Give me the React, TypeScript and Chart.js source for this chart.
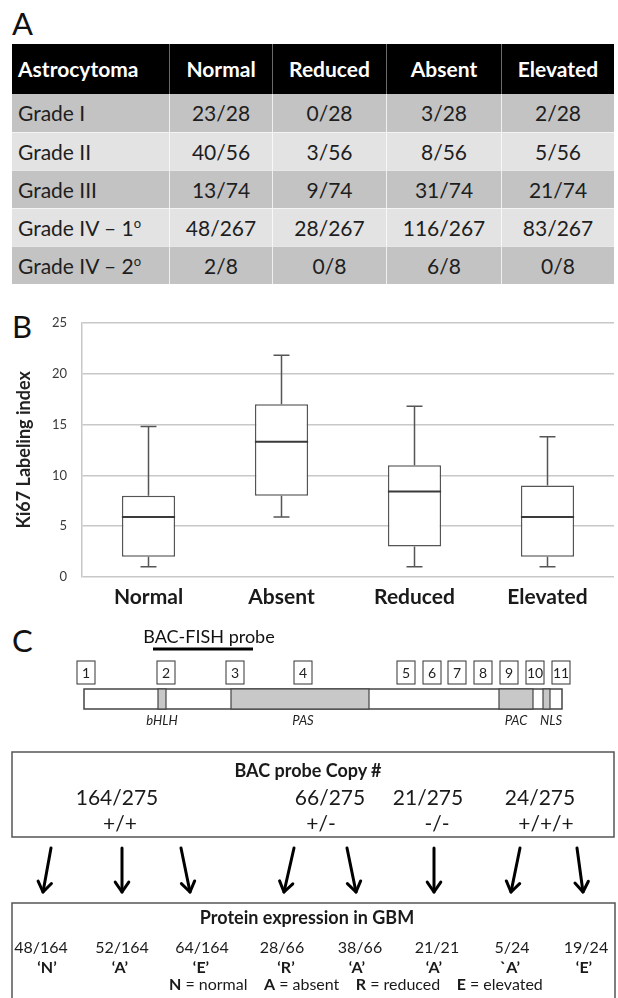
import React, { useEffect, useRef } from "react";
import { Chart, registerables } from "chart.js";

Chart.register(...registerables);

// ---------- Panel A data ----------
const tableHeaders = ["Astrocytoma", "Normal", "Reduced", "Absent", "Elevated"];
const tableGrades = ["Grade I", "Grade II", "Grade III", "Grade IV – 1", "Grade IV – 2"];
const gradeSup = ["", "", "", "o", "o"];
const colNormal = ["23/28", "40/56", "13/74", "48/267", "2/8"];
const colReduced = ["0/28", "3/56", "9/74", "28/267", "0/8"];
const colAbsent = ["3/28", "8/56", "31/74", "116/267", "6/8"];
const colElevated = ["2/28", "5/56", "21/74", "83/267", "0/8"];

// ---------- Panel B data ----------
const boxCategories = ["Normal", "Absent", "Reduced", "Elevated"];
const boxMin = [1, 5.9, 1, 1];
const boxQ1 = [2, 8, 3, 2];
const boxMedian = [5.9, 13.3, 8.4, 5.9];
const boxQ3 = [8, 17, 11, 9];
const boxMax = [14.8, 21.8, 16.8, 13.8];
const yAxisMin = 0;
const yAxisMax = 25;
const yAxisStep = 5;
const yAxisTitle = "Ki67 Labeling index";

// ---------- Panel C data ----------
const exonLabels = ["1", "2", "3", "4", "5", "6", "7", "8", "9", "10", "11"];
const domainLabels = ["bHLH", "PAS", "PAC", "NLS"];
const copyRatios = ["164/275", "66/275", "21/275", "24/275"];
const copyGenotypes = ["+/+", "+/-", "-/-", "+/+/+"];
const proteinRatios = ["48/164", "52/164", "64/164", "28/66", "38/66", "21/21", "5/24", "19/24"];
const proteinCalls = ["‘N’", "‘A’", "‘E’", "‘R’", "‘A’", "‘A’", "`A’", "‘E’"];

const FONT = "Lato, 'Open Sans', sans-serif";

// layout (positions kept out of data arrays)
const colX = [12, 169, 272, 386, 501, 614];
const headerTop = 44;
const headerH = 50;
const rowH = 38;
const rowColors = ["#c3c3c3", "#e3e3e3", "#c3c3c3", "#e3e3e3", "#c3c3c3"];

const exonX = [77, 157, 226, 294, 397, 423, 448, 474, 500, 526, 552];
const domainX = [162, 303, 516, 551];
const copyRatioX = [117, 330, 428, 540];
const copyGenoX = [120, 321, 437, 546];
const arrowsTop = [51, 122, 181, 294, 347, 434, 520, 577];
const arrowsTip = [43, 122, 190, 284, 356, 434, 511, 583];
const protRatioX = [41, 122, 202, 282, 360, 437, 512, 586];
const protCallX = [47, 120, 201, 286, 357, 434, 510, 584];

function BoxChart() {
  const ref = useRef<HTMLCanvasElement>(null);
  useEffect(() => {
    if (!ref.current) return;
    const boxPlugin = {
      id: "boxWhiskers",
      afterDatasetsDraw(chart: any) {
        const ctx = chart.ctx;
        const xs = chart.scales.x;
        const ys = chart.scales.y;
        const meta = chart.getDatasetMeta(0);
        ctx.save();
        boxCategories.forEach((_, i) => {
          const bar = meta.data[i];
          const cx = xs.getPixelForValue(i);
          const w = bar.width;
          const cap = w * 0.15;
          ctx.strokeStyle = "#555";
          ctx.lineWidth = 1.5;
          ctx.beginPath();
          ctx.moveTo(cx, ys.getPixelForValue(boxQ3[i]));
          ctx.lineTo(cx, ys.getPixelForValue(boxMax[i]));
          ctx.moveTo(cx - cap, ys.getPixelForValue(boxMax[i]));
          ctx.lineTo(cx + cap, ys.getPixelForValue(boxMax[i]));
          ctx.moveTo(cx, ys.getPixelForValue(boxQ1[i]));
          ctx.lineTo(cx, ys.getPixelForValue(boxMin[i]));
          ctx.moveTo(cx - cap, ys.getPixelForValue(boxMin[i]));
          ctx.lineTo(cx + cap, ys.getPixelForValue(boxMin[i]));
          ctx.stroke();
          ctx.strokeStyle = "#3a3a3a";
          ctx.lineWidth = 2;
          ctx.beginPath();
          const my = ys.getPixelForValue(boxMedian[i]);
          ctx.moveTo(cx - w / 2, my);
          ctx.lineTo(cx + w / 2, my);
          ctx.stroke();
        });
        ctx.restore();
      },
    };
    const chart = new Chart(ref.current, {
      type: "bar",
      data: {
        labels: boxCategories,
        datasets: [
          {
            data: boxCategories.map((_, i) => [boxQ1[i], boxQ3[i]]) as any,
            backgroundColor: "#ffffff",
            borderColor: "#555",
            borderWidth: 1.5,
            borderSkipped: false,
            barPercentage: 0.4,
            categoryPercentage: 1,
          },
        ],
      },
      options: {
        animation: false,
        responsive: false,
        devicePixelRatio: 1,
        layout: { padding: { top: 19, right: 4, left: 0, bottom: 0 } },
        plugins: { legend: { display: false }, tooltip: { enabled: false } },
        scales: {
          x: {
            grid: { display: false },
            border: { display: false },
            ticks: {
              font: { family: FONT, size: 21, weight: "bold" },
              color: "#1a1a1a",
              padding: 0,
            },
            afterFit: (s: any) => {
              s.height = 43;
            },
          },
          y: {
            min: yAxisMin,
            max: yAxisMax,
            ticks: {
              stepSize: yAxisStep,
              font: { family: FONT, size: 13 },
              color: "#3a3a3a",
              padding: 15,
            },
            grid: { color: "#c8c8c8", lineWidth: 1.5, drawTicks: false },
            border: { display: true, color: "#c8c8c8", width: 1.5 },
            title: {
              display: true,
              text: yAxisTitle,
              font: { family: FONT, size: 18, weight: "bold" },
              color: "#222",
              padding: { top: 13, bottom: 0 },
            },
            afterFit: (s: any) => {
              s.width = 82;
            },
          },
        },
      },
      plugins: [boxPlugin],
    });
    return () => chart.destroy();
  }, []);
  return (
    <canvas
      ref={ref}
      width={618}
      height={320}
      style={{ position: "absolute", left: 0, top: 300, width: 618, height: 320 }}
    />
  );
}

function Txt(props: { cx: number; cy: number; h?: number; style?: any; children: any }) {
  const h = props.h ?? 24;
  return (
    <div
      style={{
        position: "absolute",
        left: props.cx - 150,
        top: props.cy - h / 2,
        width: 300,
        height: h,
        lineHeight: h + "px",
        textAlign: "center",
        whiteSpace: "nowrap",
        ...props.style,
      }}
    >
      {props.children}
    </div>
  );
}

export default function App() {
  const columns = [tableGrades, colNormal, colReduced, colAbsent, colElevated];
  const big = { fontSize: 31, lineHeight: "31px", fontFamily: FONT, color: "#111" };
  return (
    <div
      style={{
        position: "absolute",
        left: 0,
        top: 0,
        width: 618,
        height: 998,
        background: "#fff",
        overflow: "hidden",
        fontFamily: FONT,
        color: "#1a1a1a",
      }}
    >
      <div style={{ position: "absolute", left: 12, top: 8, ...big }}>A</div>
      <div style={{ position: "absolute", left: 12, top: 311, ...big }}>B</div>
      <div style={{ position: "absolute", left: 12, top: 625, ...big }}>C</div>

      {/* Panel A table */}
      <div
        style={{
          position: "absolute",
          left: colX[0],
          top: headerTop,
          width: colX[5] - colX[0],
          height: headerH,
          background: "#000",
        }}
      />
      {tableHeaders.map((h, c) => (
        <div
          key={"h" + c}
          style={{
            position: "absolute",
            left: colX[c],
            top: headerTop,
            width: colX[c + 1] - colX[c],
            height: headerH,
            lineHeight: headerH + "px",
            textAlign: c === 0 ? "left" : "center",
            paddingLeft: c === 0 ? 6 : 0,
            boxSizing: "border-box",
            color: "#fff",
            fontWeight: "bold",
            fontSize: 21,
            borderLeft: c > 0 ? "1px solid #6a6a6a" : "none",
          }}
        >
          {h}
        </div>
      ))}
      {tableGrades.map((_, r) => (
        <div
          key={"row" + r}
          style={{
            position: "absolute",
            left: colX[0],
            top: headerTop + headerH + r * rowH,
            width: colX[5] - colX[0],
            height: rowH,
            background: rowColors[r],
          }}
        />
      ))}
      {columns.map((col, c) =>
        col.map((v, r) => (
          <div
            key={"c" + c + "-" + r}
            style={{
              position: "absolute",
              left: colX[c],
              top: headerTop + headerH + r * rowH,
              width: colX[c + 1] - colX[c],
              height: rowH,
              lineHeight: rowH + "px",
              textAlign: c === 0 ? "left" : "center",
              paddingLeft: c === 0 ? 6 : 0,
              boxSizing: "border-box",
              fontSize: 21,
              color: "#1e1e1e",
              borderLeft: c > 0 ? "1px solid rgba(255,255,255,0.75)" : "none",
              borderTop: r > 0 ? "1px solid rgba(255,255,255,0.6)" : "none",
            }}
          >
            {v}
            {c === 0 && gradeSup[r] ? (
              <sup style={{ fontSize: 13, lineHeight: 0 }}>{gradeSup[r]}</sup>
            ) : null}
          </div>
        ))
      )}

      <BoxChart />

      {/* Panel C gene diagram */}
      <svg
        width={618}
        height={998}
        style={{ position: "absolute", left: 0, top: 0 }}
        fontFamily={FONT}
      >
        <text x={209} y={643} textAnchor="middle" fontSize={18} fill="#111">
          BAC-FISH probe
        </text>
        <line x1={153} y1={649} x2={253} y2={649} stroke="#000" strokeWidth={3} />
        {exonLabels.map((e, i) => (
          <g key={"ex" + i}>
            <rect x={exonX[i]} y={661} width={18} height={23} fill="#fff" stroke="#333" strokeWidth={1} />
            <text x={exonX[i] + 9} y={678} textAnchor="middle" fontSize={14} fill="#222">
              {e}
            </text>
          </g>
        ))}
        <rect x={84} y={689} width={478} height={20} fill="#fff" stroke="#444" strokeWidth={1.5} />
        <rect x={158} y={689} width={8} height={20} fill="#c8c8c8" stroke="#444" strokeWidth={1.2} />
        <rect x={231} y={689} width={138} height={20} fill="#c8c8c8" stroke="#444" strokeWidth={1.2} />
        <rect x={499} y={689} width={34} height={20} fill="#c8c8c8" stroke="#444" strokeWidth={1.2} />
        <rect x={543} y={689} width={7} height={20} fill="#c8c8c8" stroke="#444" strokeWidth={1.2} />
        {domainLabels.map((d, i) => (
          <text key={"d" + i} x={domainX[i]} y={725} textAnchor="middle" fontSize={13} fontStyle="italic" fill="#222">
            {d}
          </text>
        ))}

        <rect x={12} y={752} width={602} height={85} fill="none" stroke="#555" strokeWidth={1.5} />
        <rect x={12} y={903} width={603} height={120} fill="none" stroke="#555" strokeWidth={1.5} />

        {arrowsTop.map((tx, i) => {
          const x1 = tx, y1 = 848, x2 = arrowsTip[i], y2 = 892;
          const ang = Math.atan2(y2 - y1, x2 - x1);
          const L = 12, a = 0.6;
          const p1x = x2 - L * Math.cos(ang - a), p1y = y2 - L * Math.sin(ang - a);
          const p2x = x2 - L * Math.cos(ang + a), p2y = y2 - L * Math.sin(ang + a);
          return (
            <g key={"ar" + i} stroke="#000" strokeWidth={3} fill="none" strokeLinecap="round" strokeLinejoin="round">
              <line x1={x1} y1={y1} x2={x2} y2={y2} />
              <polyline points={`${p1x},${p1y} ${x2},${y2} ${p2x},${p2y}`} />
            </g>
          );
        })}
      </svg>

      <Txt cx={308} cy={770} style={{ fontSize: 18, fontWeight: "bold" }}>BAC probe Copy #</Txt>
      {copyRatios.map((v, i) => (
        <Txt key={"cr" + i} cx={copyRatioX[i]} cy={797} style={{ fontSize: 21 }}>
          {v}
        </Txt>
      ))}
      {copyGenotypes.map((v, i) => (
        <Txt key={"cg" + i} cx={copyGenoX[i]} cy={823} style={{ fontSize: 21 }}>
          {v}
        </Txt>
      ))}

      <Txt cx={307} cy={917} style={{ fontSize: 18, fontWeight: "bold" }}>Protein expression in GBM</Txt>
      {proteinRatios.map((v, i) => (
        <Txt key={"pr" + i} cx={protRatioX[i]} cy={947} h={20} style={{ fontSize: 16 }}>
          {v}
        </Txt>
      ))}
      {proteinCalls.map((v, i) => (
        <Txt key={"pc" + i} cx={protCallX[i]} cy={967} h={20} style={{ fontSize: 16, fontWeight: "bold" }}>
          {v}
        </Txt>
      ))}
      <Txt cx={319} cy={984} h={20} style={{ fontSize: 16 }}>
        <b>N</b> = normal&nbsp;&nbsp;&nbsp; <b>A</b> = absent&nbsp;&nbsp;&nbsp; <b>R</b> = reduced&nbsp;&nbsp;&nbsp; <b>E</b> = elevated
      </Txt>
    </div>
  );
}
